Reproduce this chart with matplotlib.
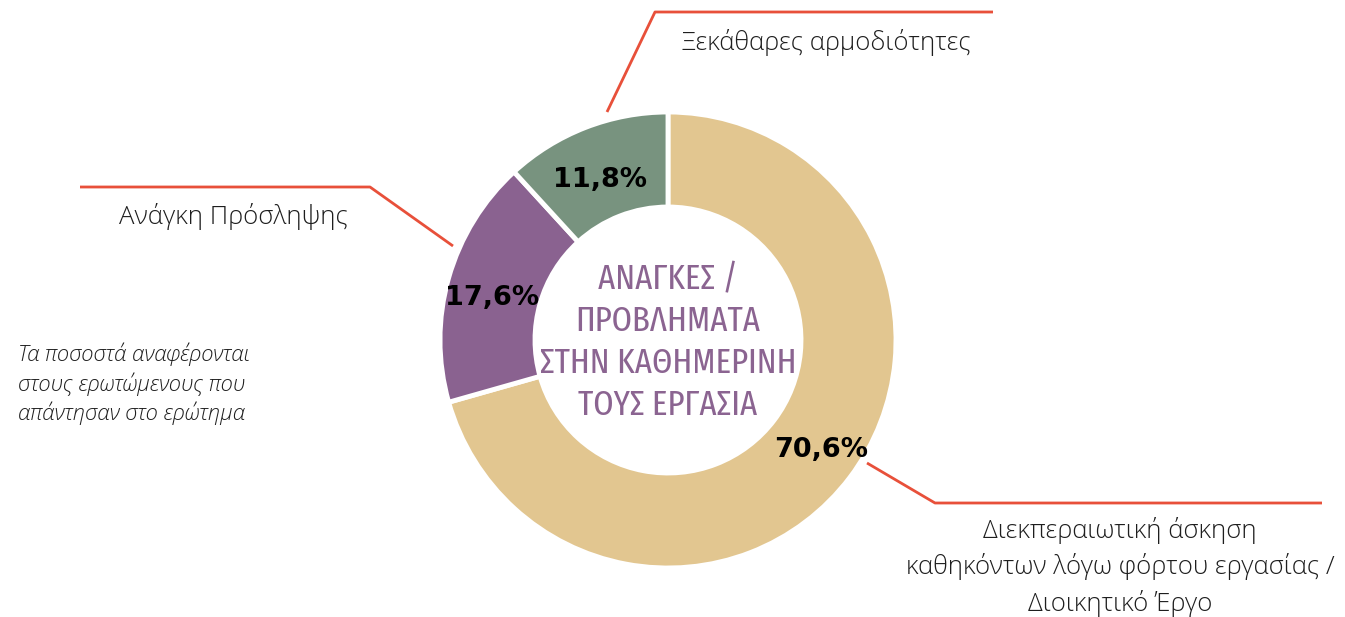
import matplotlib
matplotlib.use("Agg")
import matplotlib.pyplot as plt
from matplotlib import font_manager

# Shares of answers
categories = ["Διεκπεραιωτική άσκηση\nκαθηκόντων λόγω φόρτου εργασίας /\nΔιοικητικό Έργο",
              "Ανάγκη Πρόσληψης",
              "Ξεκάθαρες αρμοδιότητες"]
values = [70.6, 17.6, 11.8]
colors = ["#E2C690", "#8A6290", "#78937F"]
title = "ΑΝΑΓΚΕΣ /\nΠΡΟΒΛΗΜΑΤΑ\nΣΤΗΝ ΚΑΘΗΜΕΡΙΝΗ\nΤΟΥΣ ΕΡΓΑΣΙΑ"
note = "Τα ποσοστά αναφέρονται\nστους ερωτώμενους που\nαπάντησαν στο ερώτημα"

W, H = 1345, 617
RED = "#E8503A"
INK = "#1E1E1E"

installed = {f.name for f in font_manager.fontManager.ttflist}


def pick(*names):
    found = [n for n in names if n in installed]
    return found + ["DejaVu Sans"]


LABEL_FONT = pick("Open Sans")
NARROW_FONT = pick("Fira Sans Extra Condensed", "Roboto Condensed",
                   "Ubuntu Condensed", "Liberation Sans Narrow")

fig = plt.figure(figsize=(W / 100, H / 100), dpi=100)
ax = fig.add_axes([0, 0, 1, 1])


def py(y):
    # pixel rows are counted from the top
    return H - y


wedges, texts, autotexts = ax.pie(
    values, colors=colors, startangle=90, counterclock=False,
    center=(668, py(340)), radius=228,
    wedgeprops=dict(width=95, edgecolor="white", linewidth=3.5),
    autopct=lambda p: f"{p:.1f}%".replace(".", ","), pctdistance=0.8,
    textprops=dict(fontsize=19.5, fontweight="bold", color="black"),
)
# small nudges so the numbers sit like the printed version
for t, (dx, dy) in zip(autotexts, [(8, 0), (0, -8), (-2, -10)]):
    x, y = t.get_position()
    t.set_position((x + dx, y + dy))

ax.set_xlim(0, W)
ax.set_ylim(0, H)
ax.set_aspect("equal")
ax.axis("off")

# centre title
ax.text(668, py(342), title, ha="center", va="center", color="#8B6491",
        fontsize=25.5, family=NARROW_FONT, linespacing=1.3)

# leader lines
leaders = [
    [(867, 463), (935, 503), (1322, 503)],
    [(453, 246), (370, 187), (80, 187)],
    [(607, 112), (655, 12), (993, 12)],
]
for pts in leaders:
    ax.plot([p[0] for p in pts], [py(p[1]) for p in pts], color=RED, lw=2,
            solid_capstyle="butt")

ax.text(1120, py(567), categories[0], ha="center", va="center", fontsize=18.5,
        family=LABEL_FONT, fontweight="light", color=INK, linespacing=1.45)
ax.text(233, py(217), categories[1], ha="center", va="center", fontsize=18.5,
        family=LABEL_FONT, fontweight="light", color=INK)
ax.text(826, py(43), categories[2], ha="center", va="center", fontsize=18.5,
        family=LABEL_FONT, fontweight="light", color=INK)

ax.text(18, py(384), note, ha="left", va="center", fontsize=15.8,
        family=LABEL_FONT, fontweight="light", style="italic", color=INK,
        linespacing=1.32)

fig.savefig("out.png", dpi=100)
